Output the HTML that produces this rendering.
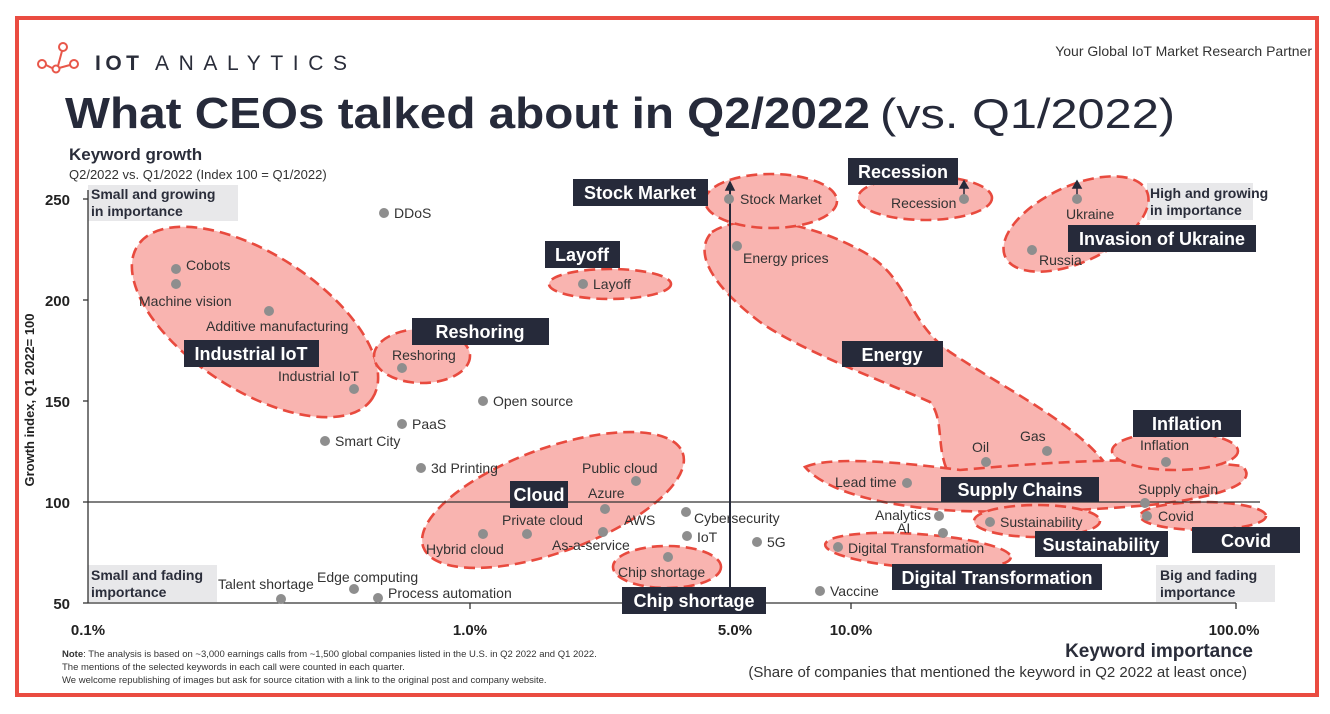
<!DOCTYPE html>
<html><head><meta charset="utf-8"><style>
html,body{margin:0;padding:0;background:#fff;}
svg{display:block;font-family:"Liberation Sans",sans-serif;}
.lb{font-size:14px;fill:#333;}
.bx{fill:#262a3a;}
.bt{font-size:18px;font-weight:bold;fill:#fff;}
.sh{fill:#f9b4b0;stroke:#e84a3e;stroke-width:2.6;stroke-dasharray:11 6;}
.pt{fill:#8e8e8e;}
.q{fill:#e8e8ea;}
.qt{font-size:14px;font-weight:bold;fill:#2a2d3a;}
.ax{font-size:15px;font-weight:bold;fill:#222;}
</style></head><body>
<svg width="1330" height="714" viewBox="0 0 1330 714">
<rect x="17" y="18" width="1300" height="677" fill="none" stroke="#ea4c41" stroke-width="4"/>
<g fill="none" stroke="#e8574a" stroke-width="2">
<circle cx="42" cy="64" r="4"/><circle cx="56" cy="69" r="3.5"/><circle cx="63" cy="47" r="4"/><circle cx="74" cy="64" r="4"/>
<path d="M46 65 L52 68 M59 68 L70 65 M58 66 L62 51"/>
</g>
<text x="95" y="70" font-size="21" fill="#2a2d3a" font-weight="bold" textLength="44">IOT</text>
<text x="155" y="70" font-size="21" fill="#2a2d3a" textLength="198" letter-spacing="6">ANALYTICS</text>
<text x="1312" y="56" font-size="14" fill="#333" text-anchor="end">Your Global IoT Market Research Partner</text>
<text x="65" y="128" font-size="44" font-weight="bold" fill="#262a3a" textLength="805" lengthAdjust="spacingAndGlyphs">What CEOs talked about in Q2/2022</text>
<text x="880" y="128" font-size="42" fill="#262a3a" textLength="295" lengthAdjust="spacingAndGlyphs">(vs. Q1/2022)</text>
<text x="69" y="160" font-size="17" font-weight="bold" fill="#2a2d3a">Keyword growth</text>
<text x="69" y="179" font-size="13" fill="#333">Q2/2022 vs. Q1/2022 (Index 100 = Q1/2022)</text>

<rect class="q" x="88" y="185" width="150" height="36"/>
<text class="qt" x="91" y="199">Small and growing</text><text class="qt" x="91" y="216">in importance</text>
<rect class="q" x="1147" y="183" width="106" height="37"/>
<text class="qt" x="1150" y="198">High and growing</text><text class="qt" x="1150" y="215">in importance</text>
<rect class="q" x="88" y="565" width="129" height="37"/>
<text class="qt" x="91" y="580">Small and fading</text><text class="qt" x="91" y="597">importance</text>
<rect class="q" x="1156" y="565" width="119" height="37"/>
<text class="qt" x="1160" y="580">Big and fading</text><text class="qt" x="1160" y="597">importance</text>

<ellipse class="sh" cx="255" cy="322" rx="140" ry="68" transform="rotate(33 255 322)"/>
<ellipse class="sh" cx="422" cy="356" rx="48" ry="27"/>
<ellipse class="sh" cx="610" cy="284" rx="61" ry="15"/>
<path class="sh" d="M712,232 C740,214 800,218 860,250 C910,276 905,320 950,352 C1010,392 1080,425 1110,470 C1090,486 1000,482 950,476 C935,450 945,420 930,402 C880,380 800,350 760,322 C720,292 690,255 712,232 Z"/>
<ellipse class="sh" cx="771" cy="201" rx="66" ry="27"/>
<ellipse class="sh" cx="925" cy="198" rx="67" ry="22"/>
<ellipse class="sh" cx="1076" cy="224" rx="78" ry="38" transform="rotate(-25 1076 224)"/>
<path class="sh" d="M805,467 C830,456 900,462 960,470 C1050,462 1150,455 1242,466 C1258,480 1232,496 1150,505 C1080,511 1020,513 960,511 C900,508 830,496 805,467 Z"/>
<ellipse class="sh" cx="1175" cy="451" rx="63" ry="19"/>
<ellipse class="sh" cx="1203" cy="516" rx="63" ry="14"/>
<ellipse class="sh" cx="1037" cy="521" rx="63" ry="16"/>
<ellipse class="sh" cx="918" cy="551" rx="93" ry="17" transform="rotate(4 918 551)"/>
<ellipse class="sh" cx="553" cy="500" rx="138" ry="52" transform="rotate(-20 553 500)"/>
<ellipse class="sh" cx="667" cy="567" rx="54" ry="21"/>

<g stroke="#333" stroke-width="1.3">
<line x1="88" y1="190" x2="88" y2="603"/>
<line x1="88" y1="603" x2="1236" y2="603"/>
<line x1="88" y1="502" x2="1260" y2="502"/>
<line x1="83" y1="199" x2="88" y2="199"/><line x1="83" y1="300" x2="88" y2="300"/><line x1="83" y1="401" x2="88" y2="401"/><line x1="83" y1="502" x2="88" y2="502"/><line x1="83" y1="603" x2="88" y2="603"/>
<line x1="470" y1="603" x2="470" y2="609"/><line x1="851" y1="603" x2="851" y2="609"/><line x1="1236" y1="603" x2="1236" y2="609"/>
</g>
<line x1="730" y1="186" x2="730" y2="614" stroke="#262a3a" stroke-width="2"/>
<g stroke="#262a3a" stroke-width="1.5" fill="#262a3a">
<line x1="964" y1="197" x2="964" y2="186"/><path d="M960,188 L964,181 L968,188Z"/>
<line x1="1077" y1="197" x2="1077" y2="186"/><path d="M1073,188 L1077,181 L1081,188Z"/>
<path d="M726,190 L730,182 L734,190Z"/>
</g>
<text class="ax" x="70" y="205" text-anchor="end">250</text>
<text class="ax" x="70" y="306" text-anchor="end">200</text>
<text class="ax" x="70" y="407" text-anchor="end">150</text>
<text class="ax" x="70" y="508" text-anchor="end">100</text>
<text class="ax" x="70" y="609" text-anchor="end">50</text>
<text class="ax" x="88" y="635" text-anchor="middle">0.1%</text>
<text class="ax" x="470" y="635" text-anchor="middle">1.0%</text>
<text class="ax" x="735" y="635" text-anchor="middle">5.0%</text>
<text class="ax" x="851" y="635" text-anchor="middle">10.0%</text>
<text class="ax" x="1234" y="635" text-anchor="middle">100.0%</text>
<text x="34" y="400" font-size="13" font-weight="bold" fill="#222" text-anchor="middle" transform="rotate(-90 34 400)">Growth index, Q1 2022= 100</text>
<text x="1253" y="657" font-size="19" font-weight="bold" fill="#2a2d3a" text-anchor="end">Keyword importance</text>
<text x="1247" y="677" font-size="15" fill="#333" text-anchor="end">(Share of companies that mentioned the keyword in Q2 2022 at least once)</text>
<g font-size="9.5" fill="#333">
<text x="62" y="657"><tspan font-weight="bold">Note</tspan>: The analysis is based on ~3,000 earnings calls from ~1,500 global companies listed in the U.S. in Q2 2022 and Q1 2022.</text>
<text x="62" y="670">The mentions of the selected keywords in each call were counted in each quarter.</text>
<text x="62" y="683">We welcome republishing of images but ask for source citation with a link to the original post and company website.</text>
</g>

<g class="pt">
<circle cx="384" cy="213" r="5"/><circle cx="176" cy="269" r="5"/><circle cx="176" cy="284" r="5"/><circle cx="269" cy="311" r="5"/>
<circle cx="354" cy="389" r="5"/><circle cx="402" cy="368" r="5"/><circle cx="402" cy="424" r="5"/><circle cx="325" cy="441" r="5"/>
<circle cx="483" cy="401" r="5"/><circle cx="421" cy="468" r="5"/><circle cx="636" cy="481" r="5"/><circle cx="605" cy="509" r="5"/>
<circle cx="603" cy="532" r="5"/><circle cx="527" cy="534" r="5"/><circle cx="483" cy="534" r="5"/><circle cx="686" cy="512" r="5"/>
<circle cx="687" cy="536" r="5"/><circle cx="668" cy="557" r="5"/><circle cx="757" cy="542" r="5"/><circle cx="583" cy="284" r="5"/>
<circle cx="729" cy="199" r="5"/><circle cx="737" cy="246" r="5"/><circle cx="964" cy="199" r="5"/><circle cx="1077" cy="199" r="5"/>
<circle cx="1032" cy="250" r="5"/><circle cx="986" cy="462" r="5"/><circle cx="1047" cy="451" r="5"/><circle cx="1166" cy="462" r="5"/>
<circle cx="907" cy="483" r="5"/><circle cx="1145" cy="503" r="5"/><circle cx="1147" cy="516" r="5"/><circle cx="939" cy="516" r="5"/>
<circle cx="943" cy="533" r="5"/><circle cx="990" cy="522" r="5"/><circle cx="838" cy="547" r="5"/><circle cx="820" cy="591" r="5"/>
<circle cx="281" cy="599" r="5"/><circle cx="354" cy="589" r="5"/><circle cx="378" cy="598" r="5"/>
</g>
<g class="lb">
<text x="394" y="218">DDoS</text>
<text x="186" y="270">Cobots</text>
<text x="139" y="306">Machine vision</text>
<text x="206" y="331">Additive manufacturing</text>
<text x="278" y="381">Industrial IoT</text>
<text x="392" y="360">Reshoring</text>
<text x="412" y="429">PaaS</text>
<text x="335" y="446">Smart City</text>
<text x="493" y="406">Open source</text>
<text x="431" y="473">3d Printing</text>
<text x="582" y="473">Public cloud</text>
<text x="588" y="498">Azure</text>
<text x="624" y="525">AWS</text>
<text x="502" y="525">Private cloud</text>
<text x="426" y="554">Hybrid cloud</text>
<text x="552" y="550">As-a-service</text>
<text x="694" y="523">Cybersecurity</text>
<text x="697" y="542">IoT</text>
<text x="618" y="577">Chip shortage</text>
<text x="767" y="547">5G</text>
<text x="593" y="289">Layoff</text>
<text x="740" y="204">Stock Market</text>
<text x="743" y="263">Energy prices</text>
<text x="891" y="208">Recession</text>
<text x="1066" y="219">Ukraine</text>
<text x="1039" y="265">Russia</text>
<text x="972" y="452">Oil</text>
<text x="1020" y="441">Gas</text>
<text x="1140" y="450">Inflation</text>
<text x="835" y="487">Lead time</text>
<text x="1138" y="494">Supply chain</text>
<text x="1158" y="521">Covid</text>
<text x="875" y="520">Analytics</text>
<text x="897" y="533">AI</text>
<text x="1000" y="527">Sustainability</text>
<text x="848" y="553">Digital Transformation</text>
<text x="830" y="596">Vaccine</text>
<text x="218" y="589">Talent shortage</text>
<text x="317" y="582">Edge computing</text>
<text x="388" y="598">Process automation</text>
</g>

<rect class="bx" x="573" y="179" width="135" height="27"/><text class="bt" x="640" y="199" text-anchor="middle">Stock Market</text>
<rect class="bx" x="848" y="158" width="110" height="27"/><text class="bt" x="903" y="178" text-anchor="middle">Recession</text>
<rect class="bx" x="545" y="241" width="75" height="27"/><text class="bt" x="582" y="261" text-anchor="middle">Layoff</text>
<rect class="bx" x="842" y="341" width="101" height="26"/><text class="bt" x="892" y="361" text-anchor="middle">Energy</text>
<rect class="bx" x="184" y="340" width="135" height="27"/><text class="bt" x="251" y="360" text-anchor="middle">Industrial IoT</text>
<rect class="bx" x="412" y="318" width="137" height="27"/><text class="bt" x="480" y="338" text-anchor="middle">Reshoring</text>
<rect class="bx" x="510" y="481" width="58" height="27"/><text class="bt" x="539" y="501" text-anchor="middle">Cloud</text>
<rect class="bx" x="622" y="587" width="144" height="27"/><text class="bt" x="694" y="607" text-anchor="middle">Chip shortage</text>
<rect class="bx" x="1133" y="410" width="108" height="27"/><text class="bt" x="1187" y="430" text-anchor="middle">Inflation</text>
<rect class="bx" x="941" y="477" width="158" height="25"/><text class="bt" x="1020" y="496" text-anchor="middle">Supply Chains</text>
<rect class="bx" x="1035" y="531" width="133" height="26"/><text class="bt" x="1101" y="551" text-anchor="middle">Sustainability</text>
<rect class="bx" x="1192" y="527" width="108" height="26"/><text class="bt" x="1246" y="547" text-anchor="middle">Covid</text>
<rect class="bx" x="892" y="564" width="210" height="26"/><text class="bt" x="997" y="584" text-anchor="middle">Digital Transformation</text>
<rect class="bx" x="1068" y="225" width="188" height="27"/><text class="bt" x="1162" y="245" text-anchor="middle">Invasion of Ukraine</text>
</svg>
</body></html>
